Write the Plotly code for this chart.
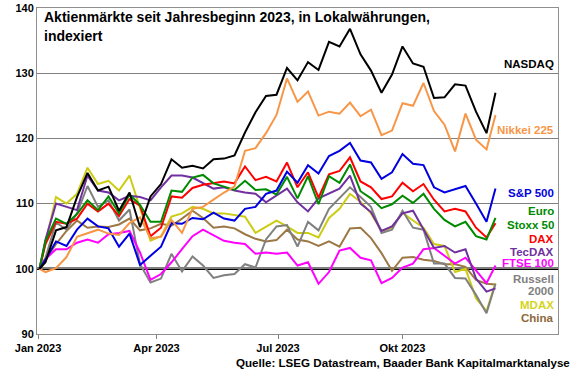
import plotly.graph_objects as go

# ---------------- data (weekly readings, index: start = 100) ----------------
dates = ["2023-01-02", "2023-01-06", "2023-01-13", "2023-01-20", "2023-01-27",
         "2023-02-03", "2023-02-10", "2023-02-17", "2023-02-24", "2023-03-03",
         "2023-03-10", "2023-03-17", "2023-03-24", "2023-03-31", "2023-04-07",
         "2023-04-14", "2023-04-21", "2023-04-28", "2023-05-05", "2023-05-12",
         "2023-05-19", "2023-05-26", "2023-06-02", "2023-06-09", "2023-06-16",
         "2023-06-23", "2023-06-30", "2023-07-07", "2023-07-14", "2023-07-21",
         "2023-07-28", "2023-08-04", "2023-08-11", "2023-08-18", "2023-08-25",
         "2023-09-01", "2023-09-08", "2023-09-15", "2023-09-22", "2023-09-29",
         "2023-10-06", "2023-10-13", "2023-10-20", "2023-10-27", "2023-11-02"]

nasdaq = [100, 101.0, 105.9, 106.4, 111.0, 114.7, 112.0, 112.6, 108.9, 111.7,
          106.4, 111.1, 113.0, 116.8, 115.5, 115.8, 115.4, 116.8, 116.9, 117.4,
          120.9, 124.0, 126.5, 126.7, 130.8, 128.9, 131.7, 130.5, 134.8, 134.1,
          136.8, 132.9, 130.4, 127.0, 129.8, 134.1, 131.5, 131.0, 126.2, 126.3,
          128.3, 128.1, 124.1, 120.8, 127.0]
nikkei = [100, 99.5, 100.1, 101.8, 104.9, 105.4, 106.0, 105.4, 105.2, 107.0,
          107.9, 104.7, 104.9, 107.5, 105.5, 109.2, 109.5, 110.6, 111.7, 112.6,
          118.1, 118.5, 120.8, 123.6, 129.2, 125.6, 127.2, 123.5, 124.1, 123.8,
          125.5, 123.4, 124.4, 120.5, 121.2, 125.4, 125.0, 128.5, 124.2, 122.1,
          118.0, 123.8, 119.8, 118.3, 123.6]
sp500 = [100, 101.4, 104.2, 103.5, 106.0, 107.7, 106.5, 106.2, 103.4, 105.4,
         100.6, 102.0, 103.4, 107.0, 106.9, 107.8, 107.6, 108.6, 107.7, 107.4,
         109.2, 109.5, 111.5, 112.0, 114.9, 113.2, 115.9, 114.6, 117.3, 118.1,
         119.3, 116.6, 116.3, 113.8, 114.8, 117.6, 116.1, 115.9, 112.5, 111.7,
         112.2, 112.7, 110.0, 107.2, 112.3]
eurostoxx = [100, 104.3, 107.7, 106.9, 108.4, 110.5, 109.0, 111.1, 108.5, 111.4,
             109.8, 107.2, 107.2, 112.0, 111.8, 114.0, 114.4, 113.1, 112.6, 112.1,
             113.5, 112.1, 112.2, 111.4, 114.1, 110.8, 114.2, 109.9, 114.2, 113.2,
             116.0, 111.9, 110.8, 109.3, 109.9, 111.2, 110.1, 111.5, 109.2, 107.5,
             106.5, 107.2, 105.0, 104.5, 107.8]
dax = [100, 103.8, 107.2, 106.9, 107.7, 110.0, 108.8, 110.0, 108.1, 110.7,
       109.7, 105.0, 106.3, 111.1, 110.9, 112.4, 112.9, 113.2, 113.4, 113.1,
       115.7, 113.6, 114.1, 113.4, 116.3, 112.5, 114.8, 110.9, 114.5, 115.0,
       117.1, 113.4, 112.5, 110.7, 111.1, 113.2, 111.9, 113.0, 110.6, 108.8,
       109.2, 108.8, 106.3, 104.8, 107.0]
tecdax = [100, 104.5, 110.0, 109.5, 109.0, 114.3, 112.0, 111.7, 110.5, 111.2,
          111.0, 110.5, 112.5, 114.3, 114.3, 114.0, 113.2, 112.3, 112.5, 112.0,
          111.7, 111.5, 110.2, 111.2, 112.3, 110.2, 108.8, 110.8, 111.5, 112.3,
          114.3, 110.0, 108.7, 105.8, 106.5, 108.5, 108.9, 106.0, 103.2, 103.5,
          102.5, 103.0, 98.5, 96.5, 97.0]
ftse100 = [100, 101.5, 103.0, 103.0, 104.0, 104.5, 104.0, 105.3, 105.5, 105.8,
           102.5, 98.3, 99.2, 101.0, 103.0, 105.0, 106.0, 105.2, 104.3, 104.0,
           103.8, 102.3, 102.5, 102.3, 102.5, 100.5, 101.0, 97.7, 99.5, 102.8,
           103.2, 101.7, 101.3, 97.8, 98.6, 100.2, 100.8, 103.0, 103.2, 102.0,
           100.8, 101.7, 99.8, 97.8, 100.5]
russell2000 = [100, 101.7, 107.1, 106.0, 108.5, 112.7, 109.5, 110.5, 107.4, 109.1,
               100.7, 97.9, 98.5, 102.3, 99.6, 101.9, 100.5, 98.6, 99.0, 99.2,
               100.7, 100.2, 104.5, 106.5, 106.7, 103.4, 107.2, 105.9, 109.2, 110.9,
               112.5, 111.0, 109.5, 105.5, 106.0, 108.9, 106.3, 106.0, 100.8, 100.8,
               98.6, 98.5, 96.0, 93.2, 97.7]
mdax = [100, 104.0, 111.0, 110.0, 111.5, 115.5, 113.0, 113.5, 112.0, 114.3,
        109.4, 104.3, 105.0, 108.0, 108.5, 109.5, 109.2, 108.5, 108.5, 108.3,
        108.0, 105.5, 106.5, 107.4, 106.5, 105.5, 105.5, 104.8, 107.8, 109.2,
        111.5, 110.3, 108.5, 105.8, 106.3, 108.6, 107.4, 106.3, 103.8, 103.5,
        99.5, 100.0, 95.5, 93.5, 97.8]
china = [100, 101.3, 103.8, 105.8, 107.4, 106.3, 106.5, 106.4, 106.8, 107.7,
         105.9, 106.2, 106.9, 106.6, 107.7, 108.9, 107.8, 106.3, 106.5, 106.2,
         105.3, 104.6, 104.2, 104.4, 106.0, 104.5, 104.2, 103.5, 104.2, 103.4,
         106.2, 106.3, 104.7, 102.4, 99.7, 101.7, 101.8, 101.4, 101.2, 100.7,
         100.7, 100.3, 98.3, 97.7, 97.6]

series_names = ["NASDAQ", "Nikkei 225", "S&P 500", "Euro Stoxx 50", "DAX",
                "TecDAX", "FTSE 100", "Russell 2000", "MDAX", "China"]
series_values = [nasdaq, nikkei, sp500, eurostoxx, dax, tecdax, ftse100,
                 russell2000, mdax, china]

y_ticks = [90, 100, 110, 120, 130, 140]
x_tick_labels = ["Jan 2023", "Apr 2023", "Jul 2023", "Okt 2023"]

title_lines = ["Aktienmärkte seit Jahresbeginn 2023, in Lokalwährungen,", "indexiert"]
source_text = "Quelle: LSEG Datastream, Baader Bank Kapitalmarktanalyse"

# ---------------- styling ----------------
colors = ["#000000", "#F79646", "#0000E0", "#008A00", "#FF0000",
          "#7030A0", "#FF00FF", "#808080", "#CCCC14", "#9C7845"]
label_colors = ["#000000", "#F79646", "#0000E0", "#008A00", "#FF0000",
                "#7030A0", "#FF00FF", "#808080", "#D4D41C", "#8C6A3A"]
# right-hand labels: (text, y position as axis value, color index)
label_specs = [
    ("NASDAQ", 131.4, 0),
    ("Nikkei 225", 121.3, 1),
    ("S&P 500", 111.6, 2),
    ("Euro", 108.9, 3),
    ("Stoxx 50", 106.7, 3),
    ("DAX", 104.6, 4),
    ("TecDAX", 102.6, 5),
    ("FTSE 100", 100.9, 6),
    ("Russell", 98.4, 7),
    ("2000", 96.6, 7),
    ("MDAX", 94.4, 8),
    ("China", 92.4, 9),
]
tick_dates = ["2023-01-01", "2023-03-21", "2023-06-10", "2023-09-01"]
FONT = "Arial, 'Liberation Sans', sans-serif"

fig = go.Figure()
for name, vals, col in reversed(list(zip(series_names, series_values, colors))):
    fig.add_trace(go.Scatter(x=dates, y=vals, mode="lines", name=name,
                             line=dict(color=col, width=2), showlegend=False))

fig.add_shape(type="line", xref="paper", yref="y", x0=0, x1=1, y0=100, y1=100,
              line=dict(color="black", width=2.5), layer="below")

for text, yv, ci in label_specs:
    fig.add_annotation(text=text, xref="paper", x=1, xanchor="right", xshift=-2,
                       yref="y", y=yv, yanchor="middle", showarrow=False,
                       font=dict(family=FONT, size=11.5, color=label_colors[ci], weight="bold"))

fig.add_annotation(text=title_lines[0], xref="paper", x=0, xanchor="left", xshift=5,
                   yref="paper", y=1, yanchor="middle", yshift=-9, showarrow=False,
                   font=dict(family=FONT, size=14, color="black", weight="bold"))
fig.add_annotation(text=title_lines[1], xref="paper", x=0, xanchor="left", xshift=5,
                   yref="paper", y=1, yanchor="middle", yshift=-28, showarrow=False,
                   font=dict(family=FONT, size=14, color="black", weight="bold"))
fig.add_annotation(text=source_text, xref="paper", x=1, xanchor="right", xshift=14,
                   yref="paper", y=0, yanchor="middle", yshift=-28, showarrow=False,
                   font=dict(family=FONT, size=11.6, color="black", weight="bold"))

fig.update_layout(
    width=580, height=375,
    margin=dict(l=37, r=22, t=8, b=41, autoexpand=False),
    paper_bgcolor="white", plot_bgcolor="white",
    showlegend=False,
)
fig.update_xaxes(
    type="date", range=["2022-12-31 08:00", "2023-12-13 16:00"],
    tickvals=tick_dates, ticktext=x_tick_labels, automargin=False,
    ticks="outside", ticklen=4, tickcolor="#808080",
    showgrid=False, zeroline=False,
    showline=True, linecolor="#909090", linewidth=1, mirror=True,
    tickfont=dict(family=FONT, size=11, color="black", weight="bold"),
)
fig.update_yaxes(
    range=[90, 140], tickvals=y_ticks, automargin=False,
    showgrid=True, gridcolor="#808080", gridwidth=1, zeroline=False,
    showline=True, linecolor="#909090", linewidth=1, mirror=True,
    ticks="",
    tickfont=dict(family=FONT, size=11, color="black", weight="bold"),
)

fig.write_html("out.html",
               config={"displayModeBar": False},
               post_script="document.body.style.margin='0';document.body.style.overflow='hidden';")
